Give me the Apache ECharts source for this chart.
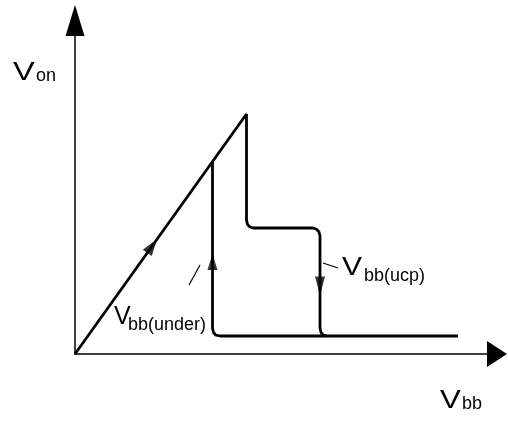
<!DOCTYPE html>
<html>
<head>
<meta charset="utf-8">
<script src="https://cdn.jsdelivr.net/npm/echarts@6/dist/echarts.min.js"></script>
<style>html,body{margin:0;padding:0;background:#fff}#c{width:508px;height:426px}</style>
</head>
<body>
<div id="c"></div>
<script>
// Characteristic curve of V_on versus V_bb (values in chart units)
const upperPathX = [0, 171.5, 171.5, 172.3, 174.5, 178, 238, 241.5, 244, 245, 245, 246, 248.5, 252, 383];
const upperPathY = [0, 240, 134, 130, 127.3, 126, 126, 124.8, 122, 118, 26, 21.5, 18.8, 18, 18];
const lowerPathX = [137.5, 137.5, 138.5, 141, 145, 252];
const lowerPathY = [192.4, 26, 21.5, 18.8, 18, 18];
const leaderUnderX = [125, 114];
const leaderUnderY = [89, 69];
const leaderUcpX = [248, 263];
const leaderUcpY = [91, 86];
const arrowX = [77.2, 137.5, 245];
const arrowY = [108, 92, 68];
const arrowDir = [-35.5, 0, 180];

const zip = (xs, ys) => xs.map((x, i) => [x, ys[i]]);
const arrowSizes = [[11, 17], [10, 16], [10, 19]];

const chart = echarts.init(document.getElementById('c'), null, {renderer: 'canvas'});
const font = '"Liberation Sans", Arial, sans-serif';
function label(x, y, main, sub, subY, scale, subX) {
  return [
    {type: 'text', x: x, y: y, scaleX: scale, style: {text: main, fontSize: 25, fontFamily: font, fill: '#000', align: 'left', verticalAlign: 'middle'}},
    {type: 'text', x: subX, y: subY, style: {text: sub, fontSize: 18, fontFamily: font, fill: '#000', align: 'left', verticalAlign: 'middle'}}
  ];
}
chart.setOption({
  animation: false,
  grid: {left: 75, top: 20.5, right: 11, bottom: 72, containLabel: false},
  xAxis: {
    type: 'value', min: 0, max: 422,
    axisLine: {show: true, onZero: false, lineStyle: {color: '#000', width: 1.5}, symbol: ['none', 'triangle'], symbolSize: [26, 20]},
    axisTick: {show: false}, axisLabel: {show: false}, splitLine: {show: false}
  },
  yAxis: {
    type: 'value', min: 0, max: 333.5,
    axisLine: {show: true, onZero: false, lineStyle: {color: '#000', width: 1.5}, symbol: ['none', 'triangle'], symbolSize: [19, 31]},
    axisTick: {show: false}, axisLabel: {show: false}, splitLine: {show: false}
  },
  series: [
    {type: 'line', data: zip(upperPathX, upperPathY), symbol: 'none', lineStyle: {color: '#000', width: 2.8}, silent: true},
    {type: 'line', data: zip(lowerPathX, lowerPathY), symbol: 'none', lineStyle: {color: '#000', width: 2.8}, silent: true},
    {type: 'line', data: zip(leaderUnderX, leaderUnderY), symbol: 'none', lineStyle: {color: '#000', width: 1.2}, silent: true},
    {type: 'line', data: zip(leaderUcpX, leaderUcpY), symbol: 'none', lineStyle: {color: '#000', width: 1.2}, silent: true},
    {type: 'scatter', symbol: 'triangle', itemStyle: {color: '#000'}, silent: true, z: 5,
     data: arrowX.map((x, i) => ({value: [x, arrowY[i]], symbolSize: arrowSizes[i], symbolRotate: arrowDir[i]}))}
  ],
  graphic: [].concat(
    label(13, 73.5, 'V', 'on', 76, 1.3, 36),
    label(114, 317.5, 'V', 'bb(under)', 325.5, 1.0, 128),
    label(342, 268, 'V', 'bb(ucp)', 276, 1.2, 364),
    label(440, 401, 'V', 'bb', 404, 1.25, 462)
  )
});
</script>
</body>
</html>
